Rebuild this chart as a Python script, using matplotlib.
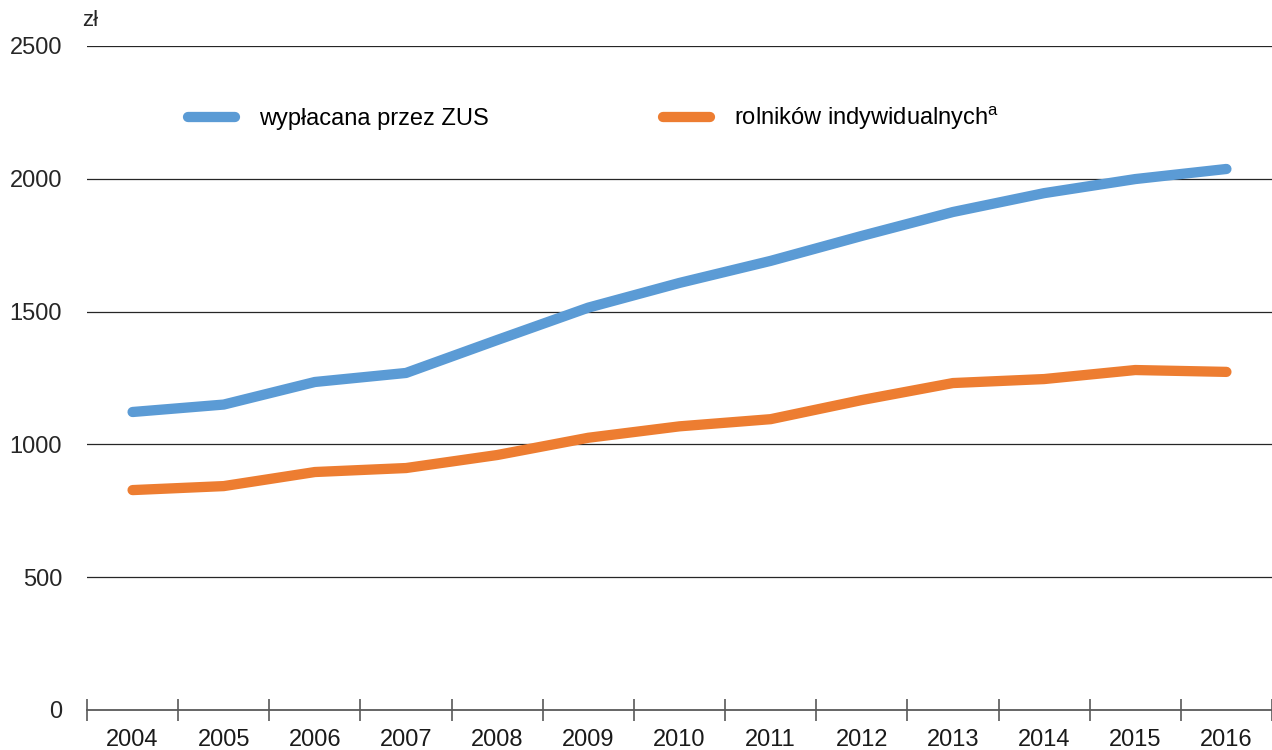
import matplotlib.pyplot as plt
import numpy as np

plt.rcParams['font.family'] = ['Liberation Sans', 'DejaVu Sans']
plt.rcParams['mathtext.fontset'] = 'custom'
plt.rcParams['mathtext.rm'] = 'Liberation Sans'

# data
years = ['2004', '2005', '2006', '2007', '2008', '2009', '2010',
         '2011', '2012', '2013', '2014', '2015', '2016']
zus = [1122, 1150, 1235, 1269, 1393, 1515, 1608,
       1691, 1785, 1875, 1946, 1999, 2037]
rolnicy = [828, 843, 896, 911, 960, 1025, 1068,
           1095, 1167, 1231, 1246, 1280, 1273]
yticks = [0, 500, 1000, 1500, 2000, 2500]

blue = '#5B9BD5'
orange = '#ED7D31'

fig = plt.figure(figsize=(12.72, 7.5), dpi=100)
ax = fig.add_axes([87/1272, 40/750, 1185/1272, 664/750])

x = np.arange(len(years))
ax.plot(x, zus, color=blue, lw=7.4, solid_capstyle='round',
        solid_joinstyle='round', label='wypłacana przez ZUS')
ax.plot(x, rolnicy, color=orange, lw=7.4, solid_capstyle='round',
        solid_joinstyle='round', label='rolników indywidualnych$^{\\mathrm{a}}$')

ax.set_xlim(-0.5, len(years) - 0.5)
ax.set_ylim(0, 2500)

# gridlines (not at zero, the axis line sits there)
for v in yticks[1:]:
    ax.axhline(v, color='#262626', lw=0.9, zorder=0)

for s in ['top', 'right', 'left']:
    ax.spines[s].set_visible(False)
ax.spines['bottom'].set_color('#595959')
ax.spines['bottom'].set_linewidth(1.3)

ax.set_yticks(yticks)
ax.set_yticklabels([str(v) for v in yticks])
ax.tick_params(axis='y', length=0, pad=18, labelsize=17, labelcolor='#262626')

ax.set_xticks(x)
ax.set_xticklabels(years)
ax.set_xticks(np.arange(-0.5, len(years)), minor=True)
ax.tick_params(axis='x', which='major', length=0, pad=14, labelsize=17,
               labelcolor='#1a1a1a')
ax.tick_params(axis='x', which='minor', direction='inout', length=16,
               width=1.2, color='#595959')

fig.text(82/1272, 1 - 20/750, 'zł', fontsize=16, color='#262626',
         ha='left', va='center')

ax.legend(loc='center left', bbox_to_anchor=(0.0852, 0.8916), ncol=2,
          frameon=False, fontsize=17, handlelength=2.0, handletextpad=1.0,
          columnspacing=7.4, borderpad=0, borderaxespad=0)

fig.savefig('out.png', dpi=100)
